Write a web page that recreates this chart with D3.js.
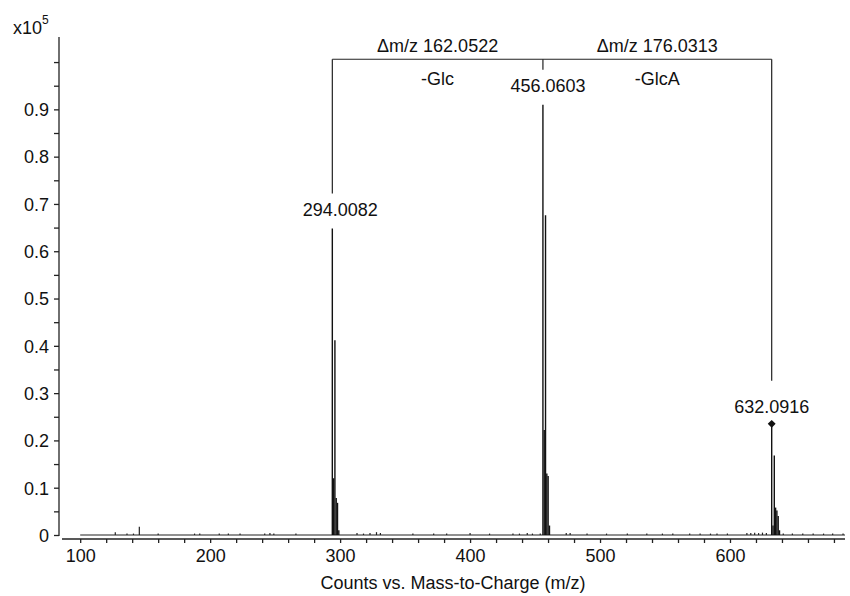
<!DOCTYPE html>
<html>
<head>
<meta charset="utf-8">
<script src="https://cdn.jsdelivr.net/npm/d3@7"></script>
<style>
  body { margin: 0; background: #fff; }
  text { font-family: "Liberation Sans", Arial, Helvetica, sans-serif; fill: #111; }
</style>
</head>
<body>
<svg id="chart" width="850" height="596"></svg>
<script>
// main peaks (m/z, intensity in units of 1e5 counts)
var peakMz        = [294.0082, 295.01, 296.00, 297.00, 298.00, 299.0,
                     456.0603, 457.06, 458.06, 459.06, 460.06, 461.1,
                     632.0916, 633.1, 634.09, 635.09, 636.09, 637.1, 638.1];
var peakIntensity = [0.648, 0.120, 0.412, 0.078, 0.068, 0.010,
                     0.910, 0.222, 0.676, 0.130, 0.125, 0.020,
                     0.235, 0.020, 0.168, 0.058, 0.052, 0.040, 0.010];

// small noise peaks along the baseline
var noiseMz        = [127, 136, 141, 145.5, 160, 188, 192, 207, 214, 223, 242, 246, 249, 266,
                      313, 318, 323, 328, 331, 356, 372, 382, 400, 415, 433, 438, 444, 448, 454,
                      474, 477, 490, 505, 521, 536, 548, 556, 569, 577, 585, 590, 598,
                      613, 616, 619, 622, 625, 628, 641, 648, 656, 664, 672, 679, 687];
var noiseIntensity = [0.006, 0.003, 0.003, 0.0175, 0.003, 0.003, 0.003, 0.003, 0.003, 0.003, 0.003, 0.004, 0.003, 0.003,
                      0.004, 0.003, 0.004, 0.006, 0.004, 0.003, 0.003, 0.003, 0.004, 0.003, 0.003, 0.003, 0.004, 0.003, 0.003,
                      0.004, 0.004, 0.003, 0.003, 0.003, 0.003, 0.003, 0.003, 0.003, 0.003, 0.003, 0.003, 0.003,
                      0.004, 0.004, 0.005, 0.004, 0.005, 0.004, 0.003, 0.003, 0.003, 0.003, 0.003, 0.003, 0.003];

// labelled peaks and the bracket annotations
var labelMz     = [294.0082, 456.0603, 632.0916];
var labelText   = ["294.0082", "456.0603", "632.0916"];
var deltaText   = ["\u0394m/z 162.0522", "\u0394m/z 176.0313"];
var lossText    = ["-Glc", "-GlcA"];

var xTickLabels = [100, 200, 300, 400, 500, 600];
var yTickLabels = [0, 0.1, 0.2, 0.3, 0.4, 0.5, 0.6, 0.7, 0.8, 0.9];

var svg = d3.select("#chart");
var fontSize = 18;

var x = d3.scaleLinear().domain([86, 688.5]).range([62, 845]);
var y = d3.scaleLinear().domain([0, 1.053]).range([535, 37]);

var intensityOf = {};
peakMz.forEach((m, i) => intensityOf[m] = peakIntensity[i]);

//y axis
var yAxis = svg.append("g")
  .attr("transform", "translate(59,0)")
  .call(d3.axisLeft(y)
    .tickValues(d3.range(0, 21).map(d => d * 0.05))
    .tickSize(5)
    .tickFormat(d => {
      var v = Math.round(d * 100) / 100;
      return yTickLabels.indexOf(v) >= 0 ? d3.format("")(v) : "";
    }));
yAxis.select(".domain").attr("d", "M0," + y(1.053) + "V" + (y(0) + 1)).attr("stroke", "#222").attr("stroke-width", 1.3);
yAxis.selectAll(".tick line").attr("stroke", "#222").attr("stroke-width", 1.3);
yAxis.selectAll(".tick text").attr("font-size", fontSize).attr("x", -10).attr("dy", "0.35em")
  .style("font-family", "Liberation Sans, Arial, sans-serif").attr("fill", "#111");

//x axis
var xAxis = svg.append("g")
  .attr("transform", "translate(0,539)")
  .call(d3.axisBottom(x)
    .tickValues(d3.range(100, 690, 20))
    .tickSize(4)
    .tickFormat(d => xTickLabels.indexOf(d) >= 0 ? d : ""));
xAxis.select(".domain").attr("d", "M" + x(86) + ",0H" + x(688.5)).attr("stroke", "#222").attr("stroke-width", 1.3);
xAxis.selectAll(".tick line").attr("stroke", "#222").attr("stroke-width", 1.3);
xAxis.selectAll(".tick text").attr("font-size", fontSize).attr("y", 10)
  .style("font-family", "Liberation Sans, Arial, sans-serif").attr("fill", "#111");

//multiplier
var mult = svg.append("text").attr("x", 13).attr("y", 34).attr("font-size", fontSize);
mult.append("tspan").text("x10");
mult.append("tspan").attr("font-size", 12).attr("dy", -10).text("5");

//axis title
svg.append("text")
  .attr("x", 453).attr("y", 589)
  .attr("text-anchor", "middle")
  .attr("font-size", fontSize)
  .text("Counts vs. Mass-to-Charge (m/z)");

//baseline of the spectrum
svg.append("line")
  .attr("x1", x(100)).attr("x2", x(688.5))
  .attr("y1", y(0)).attr("y2", y(0))
  .attr("stroke", "#222").attr("stroke-width", 1.2);

//noise sticks
svg.selectAll(".noise")
  .data(noiseMz.map((m, i) => ({mz: m, v: noiseIntensity[i]})))
  .enter().append("line")
  .attr("x1", d => x(d.mz)).attr("x2", d => x(d.mz))
  .attr("y1", y(0)).attr("y2", d => y(d.v))
  .attr("stroke", "#222").attr("stroke-width", 1.2);

//peak sticks
svg.selectAll(".peak")
  .data(peakMz.map((m, i) => ({mz: m, v: peakIntensity[i]})))
  .enter().append("line")
  .attr("x1", d => x(d.mz)).attr("x2", d => x(d.mz))
  .attr("y1", y(0)).attr("y2", d => y(d.v))
  .attr("stroke", "#111").attr("stroke-width", 1.4);

//peak labels
var labelShift = [8, 5, 0];
labelMz.forEach((m, i) => {
  svg.append("text")
    .attr("x", x(m) + labelShift[i]).attr("y", y(intensityOf[m]) - (i == 2 ? 11 : 13))
    .attr("text-anchor", "middle")
    .attr("font-size", fontSize)
    .text(labelText[i]);
});

//diamond on last peak
svg.append("path")
  .attr("d", d3.symbol().type(d3.symbolDiamond2).size(40))
  .attr("transform", `translate(${x(labelMz[2])},${y(intensityOf[labelMz[2]])})`)
  .attr("fill", "#111");

//bracket
var topY = y(1.006);
svg.append("line")
  .attr("x1", x(labelMz[0])).attr("x2", x(labelMz[2]))
  .attr("y1", topY).attr("y2", topY)
  .attr("stroke", "#222").attr("stroke-width", 1.2);
labelMz.forEach((m, i) => {
  svg.append("line")
    .attr("x1", x(m)).attr("x2", x(m))
    .attr("y1", topY).attr("y2", y(intensityOf[m]) - (i == 2 ? 43 : 35))
    .attr("stroke", "#222").attr("stroke-width", 1.2);
});

//delta labels and neutral losses
deltaText.forEach((t, i) => {
  var mid = (x(labelMz[i]) + x(labelMz[i + 1])) / 2;
  svg.append("text").attr("x", mid).attr("y", topY - 7)
    .attr("text-anchor", "middle").attr("font-size", fontSize).text(t);
  svg.append("text").attr("x", mid).attr("y", topY + 26)
    .attr("text-anchor", "middle").attr("font-size", fontSize).text(lossText[i]);
});
</script>
</body>
</html>
